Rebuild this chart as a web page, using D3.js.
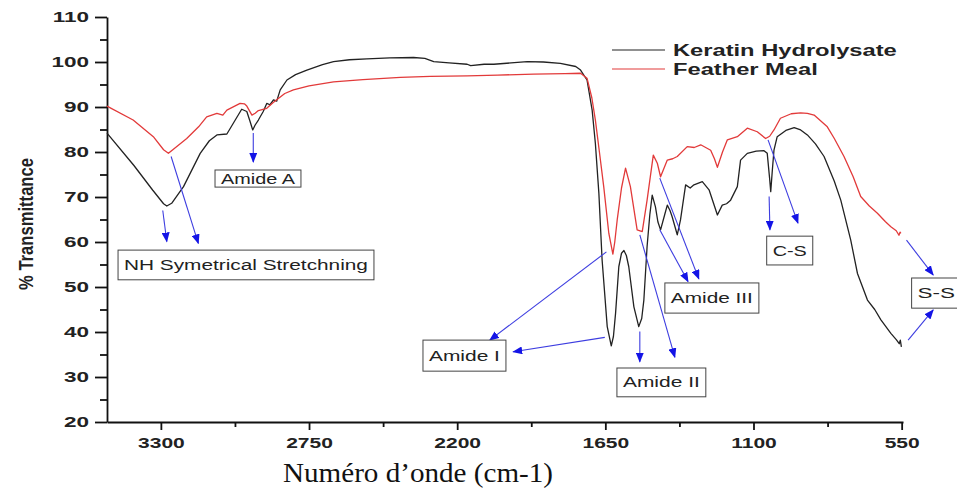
<!DOCTYPE html>
<html>
<head>
<meta charset="utf-8">
<script src="https://cdn.jsdelivr.net/npm/d3@7"></script>
<style>
  body { margin: 0; background: #fff; }
  .axis path, .axis line { stroke: #111; stroke-width: 1.8; }
  .axis text { font-family: "Liberation Sans", Arial, sans-serif; font-weight: bold; font-size: 15px; fill: #222; }
</style>
</head>
<body>
<script>
// FTIR spectra
var keratinWave = [3500,3400,3330,3290,3278,3260,3216,3154,3120,3092,3055,3030,3000,2981,2970,2959,2950,2938,2920,2907,
  2895,2882,2870,2857,2832,2800,2758,2700,2659,2600,2535,2450,2362,2320,2287,2230,2163,2150,2100,2064,
  2000,1940,1880,1817,1760,1742,1718,1699,1687,1674,1662,1643,1628,1620,1612,1600,1590,1581,1572,1563,
  1544,1526,1515,1507,1495,1485,1476,1464,1455,1445,1430,1420,1410,1402,1383,1371,1352,1335,1321,1290,
  1265,1245,1234,1216,1200,1185,1160,1148,1123,1090,1061,1049,1040,1036,1030,1024,1012,980,949,925,
  900,870,838,800,776,739,714,677,650,627,590,570,559,555,551];
var keratinT = [84.2,77.0,71.5,68.5,68.0,68.6,72.3,79.7,82.5,83.8,84.0,86.5,89.5,89.0,87.0,84.9,86.0,87.1,89.0,90.8,
  90.5,91.6,91.3,93.8,96.0,97.2,98.2,99.4,100.1,100.5,100.7,100.9,101.0,100.8,100.1,99.8,99.5,99.2,99.5,99.5,
  99.8,100.1,100.0,99.7,99.0,98.2,96.0,89.3,81.9,70.8,56.0,41.2,36.9,39.0,44.2,54.5,57.5,58.1,57.0,54.5,
  45.6,41.2,43.0,47.1,59.0,66.0,70.4,67.8,64.5,62.7,66.0,68.2,67.0,65.6,61.6,64.9,72.7,72.0,72.7,73.4,
  71.6,68.0,66.0,68.2,68.5,69.3,72.3,78.2,79.7,80.2,80.3,79.7,74.0,71.2,76.0,80.4,83.4,84.8,85.4,84.9,
  83.8,81.8,79.0,73.5,69.3,60.4,53.0,47.1,45.0,42.7,39.7,38.3,37.4,38.2,36.7];

var mealWave = [3500,3403,3328,3290,3272,3250,3204,3160,3130,3092,3070,3055,3006,2990,2981,2962,2950,2938,2907,2885,
  2870,2840,2808,2750,2659,2550,2411,2300,2163,2050,1916,1800,1742,1718,1700,1687,1672,1656,1637,1622,
  1615,1606,1590,1575,1557,1532,1513,1495,1472,1457,1445,1420,1400,1383,1346,1320,1296,1259,1245,1234,
  1215,1197,1160,1123,1086,1055,1040,1024,1000,960,925,900,875,826,800,764,730,702,670,640,
  610,590,570,560,556,553];
var mealT = [90.2,87.1,83.4,80.5,79.7,80.8,83.0,85.6,87.8,88.6,88.2,89.3,90.8,90.7,90.2,88.2,88.6,89.2,89.7,90.9,
  91.6,93.0,93.8,94.7,95.6,96.1,96.6,96.8,96.9,97.1,97.3,97.4,97.5,96.4,92.0,87.1,80.0,72.3,61.9,57.3,
  60.0,64.9,72.0,76.4,72.3,62.7,62.3,69.3,79.3,77.5,74.5,78.2,78.5,79.0,81.2,81.0,81.6,80.4,78.5,76.6,
  80.0,82.7,83.4,85.3,84.5,83.0,83.5,84.9,87.5,88.5,88.7,88.6,88.2,85.6,83.0,79.0,74.5,70.1,68.0,66.4,
  64.5,63.4,62.5,61.5,62.2,61.9];

var seriesNames = ["Keratin Hydrolysate", "Feather Meal"];
var xTicks = [3300, 2750, 2200, 1650, 1100, 550];
var xMinor = [3025, 2475, 1925, 1375, 825];
var yTicks = [20, 30, 40, 50, 60, 70, 80, 90, 100, 110];
var yMinor = [25, 35, 45, 55, 65, 75, 85, 95, 105];

// band assignments: box corners in (wavenumber, %T)
var labelText = ["NH Symetrical Stretchning", "Amide A", "Amide I", "Amide II", "Amide III", "C-S", "S-S"];
var labelWave = [[3459,2509],[3099,2780],[2327,2019],[1607,1277],[1429,1080],[1051,880],[513,312]];
var labelT = [[58.2,51.6],[76.0,72.2],[38.2,31.3],[32.0,25.6],[50.9,44.2],[61.3,54.9],[52.0,45.3]];
var arrowFrom = [[3293,67.0],[3262,79.0],[2957,84.2],[1646,57.8],[1652,38.8],[1522,40.1],[1522,61.6],
  [1448,74.2],[1448,62.7],[1042,70.1],[1046,82.7],[532,60.4],[526,38.2]];
var arrowTo = [[3278,60.1],[3161,59.7],[2957,77.8],[2079,38.2],[1992,35.6],[1522,33.4],[1392,34.4],
  [1303,51.8],[1343,51.2],[1039,62.7],[935,64.2],[433,52.7],[433,44.9]];

var W = 957, H = 491;
var svg = d3.select("body").append("svg").attr("width", W).attr("height", H);

var x = d3.scaleLinear().domain([3500, 545]).range([107, 903]);
var y = d3.scaleLinear().domain([20, 110]).range([422, 17]);

// picture is stretched sideways, so is the text
function stretch(sel, k) {
  sel.each(function() {
    var len = this.getComputedTextLength();
    d3.select(this).attr("textLength", len * k).attr("lengthAdjust", "spacingAndGlyphs");
  });
}

// axes
var gx = svg.append("g").attr("class", "axis").attr("transform", "translate(0,422)")
  .call(d3.axisBottom(x).tickValues(xTicks).tickSize(8).tickSizeOuter(0).tickPadding(7).tickFormat(d3.format("d")));
svg.append("g").attr("class", "axis").attr("transform", "translate(0,422)")
  .call(d3.axisBottom(x).tickValues(xMinor).tickSize(5).tickSizeOuter(0).tickFormat(""))
  .select(".domain").remove();
var gy = svg.append("g").attr("class", "axis").attr("transform", "translate(107,0)")
  .call(d3.axisLeft(y).tickValues(yTicks).tickSize(12).tickSizeOuter(0).tickPadding(6));
svg.append("g").attr("class", "axis").attr("transform", "translate(107,0)")
  .call(d3.axisLeft(y).tickValues(yMinor).tickSize(7).tickSizeOuter(0).tickFormat(""))
  .select(".domain").remove();
stretch(gx.selectAll(".tick text"), 1.4);
stretch(gy.selectAll(".tick text"), 1.5);

svg.append("text")
  .attr("transform", "translate(33,224) rotate(-90)")
  .attr("text-anchor", "middle")
  .style("font-family", "'Liberation Sans Narrow', 'Arial Narrow', sans-serif")
  .style("font-weight", "bold")
  .style("font-size", "21px")
  .attr("fill", "#222")
  .attr("textLength", 132).attr("lengthAdjust", "spacingAndGlyphs")
  .text("% Transmittance");

svg.append("text")
  .attr("x", 283).attr("y", 482)
  .style("font-family", "'Liberation Serif', 'Times New Roman', serif")
  .style("font-size", "28px")
  .attr("fill", "#111")
  .attr("textLength", 270).attr("lengthAdjust", "spacingAndGlyphs")
  .text("Numéro d’onde (cm-1)");

// spectra
var line = d3.line().x(function(d) { return x(d[0]); }).y(function(d) { return y(d[1]); });
var series = [
  { pts: d3.zip(keratinWave, keratinT), color: "#222" },
  { pts: d3.zip(mealWave, mealT), color: "#e23a3a" }
];
svg.selectAll(".spec").data(series).enter().append("path")
  .attr("class", "spec")
  .attr("d", function(d) { return line(d.pts); })
  .attr("fill", "none")
  .attr("stroke", function(d) { return d.color; })
  .attr("stroke-width", 1.3)
  .attr("stroke-linejoin", "round");

// legend
var leg = svg.append("g");
series.forEach(function(s, i) {
  leg.append("line").attr("x1", 612).attr("x2", 665).attr("y1", 50 + i * 19).attr("y2", 50 + i * 19)
    .attr("stroke", s.color).attr("stroke-width", 1.2);
  leg.append("text").attr("x", 673).attr("y", 50 + i * 19).attr("dy", "0.36em")
    .style("font-family", "'Liberation Sans', Arial, sans-serif")
    .style("font-weight", "bold").style("font-size", "16px").attr("fill", "#222")
    .text(seriesNames[i]);
});
stretch(leg.selectAll("text"), 1.48);

// arrows
svg.append("defs").append("marker")
  .attr("id", "head").attr("markerUnits", "userSpaceOnUse")
  .attr("markerWidth", 10).attr("markerHeight", 8)
  .attr("refX", 9).attr("refY", 4).attr("orient", "auto")
  .append("path").attr("d", "M0,0L10,4L0,8Z").attr("fill", "#1414e6");

svg.selectAll(".arrow").data(d3.zip(arrowFrom, arrowTo)).enter().append("line")
  .attr("class", "arrow")
  .attr("x1", function(d) { return x(d[0][0]); })
  .attr("y1", function(d) { return y(d[0][1]); })
  .attr("x2", function(d) { return x(d[1][0]); })
  .attr("y2", function(d) { return y(d[1][1]); })
  .attr("stroke", "#3d3de0").attr("stroke-width", 1.1)
  .attr("marker-end", "url(#head)");

// label boxes
labelText.forEach(function(t, i) {
  var x0 = x(labelWave[i][0]), x1 = x(labelWave[i][1]);
  var y0 = y(labelT[i][0]), y1 = y(labelT[i][1]);
  svg.append("rect").attr("x", x0).attr("y", y0).attr("width", x1 - x0).attr("height", y1 - y0)
    .attr("fill", "#fff").attr("stroke", "#444").attr("stroke-width", 1);
  var tx = svg.append("text").attr("x", x0 + 6).attr("y", (y0 + y1) / 2).attr("dy", "0.36em")
    .style("font-family", "'Liberation Sans', Arial, sans-serif")
    .style("font-size", "14px").attr("fill", "#222")
    .text(t);
  var len = tx.node().getComputedTextLength();
  tx.attr("textLength", Math.max(len, Math.min(len * 1.6, x1 - x0 - 12))).attr("lengthAdjust", "spacingAndGlyphs");
});
</script>
</body>
</html>
